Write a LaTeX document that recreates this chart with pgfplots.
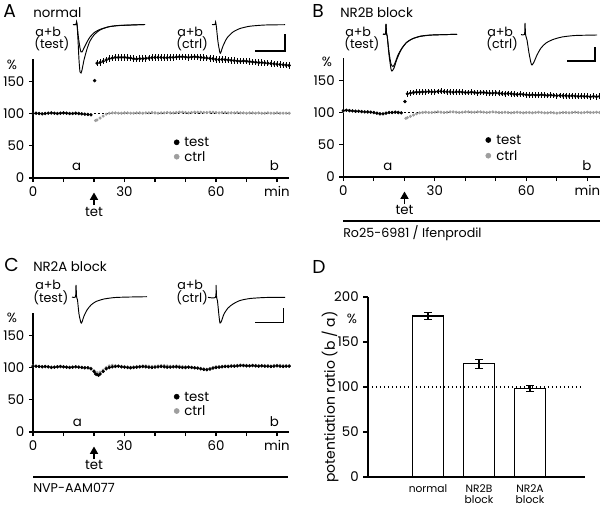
\documentclass[border=0pt]{standalone}
\usepackage{fontspec}
\setmainfont{Poppins}
\usepackage{pgfplots}
\pgfplotsset{compat=1.18}
\usetikzlibrary{arrows.meta}
\definecolor{grayc}{gray}{0.62}
\newcommand{\fs}{\fontsize{10}{12}\selectfont}
\newcommand{\fl}{\fontsize{9.5}{11}\selectfont}
\pgfplotsset{
  ts/.style={scale only axis, width=192.15pt, height=89.25pt,
    xmin=0, xmax=84, ymin=0, ymax=184.5, anchor=south west,
    axis lines=left, axis line style={-, line width=0.8pt},
    tick align=outside, major tick length=3pt,
    tick style={black, line width=0.8pt},
    xtick={0,10,...,80}, xticklabels={0,,,30,,,60,,min},
    ytick={0,50,100,150}, yticklabels={0,50,100,150},
    every tick label/.append style={font=\fs},
    clip=false},
  tst/.style={only marks, mark=*, mark size=1.05pt, color=black,
    error bars/.cd, y dir=both, y fixed=#1,
    error mark options={mark size=0pt},
    error bar style={line width=0.55pt, black}},
  ctl/.style={only marks, mark=*, mark size=0.95pt, color=grayc,
    error bars/.cd, y dir=both, y fixed=#1,
    error mark options={mark size=0pt},
    error bar style={line width=0.5pt, grayc}},
  refl/.style={black, line width=0.6pt, dash pattern=on 1.5pt off 1.5pt},
}
\begin{document}
\begin{tikzpicture}
\useasboundingbox (0pt,0pt) rectangle (450pt,-380.25pt);
% ---------------- Panel A ----------------
\begin{axis}[ts, at={(24.75pt,-133.5pt)}]
\addplot[refl] coordinates {(20,100) (84,100)};
\addplot[ctl=1] coordinates {(0,100)(2,100)(4,100)(6,100.5)(8,100)(10,100.5)(12,100)(14,100)(16,99.5)(18,99)};
\addplot[ctl=1.5] coordinates {(20.5,89)(21,90)(22,93)(23,96)(24,99)(25,100.5)(26,101)(27,101)(28,100.5)(29,100.5)(30,101)(31,101)(32,100.5)(33,100.5)(34,101)(35,101)(36,100.5)(37,101)(38,101)(39,101.5)(40,101)(41,100.5)(42,101)(43,101)(44,101.5)(45,101)(46,101)(47,101.5)(48,102)(49,102)(50,101.5)(51,101)(52,101.5)(53,102)(54,102)(55,102)(56,101.5)(57,101.5)(58,102)(59,102)(60,101.5)(61,101)(62,101.5)(63,101.5)(64,101)(65,101)(66,101)(67,101.5)(68,101)(69,101)(70,100.5)(71,101)(72,101)(73,100.5)(74,101)(75,100.5)(76,100.5)(77,101)(78,100.5)(79,100.5)(80,101)(81,100.5)(82,100.5)(83,100.5)(84,100.5)};
\addplot[tst=1.2] coordinates {(0,100)(1,100.5)(2,100)(3,99.5)(4,100)(5,100.5)(6,101)(7,100.5)(8,100)(9,100.5)(10,101)(11,100.5)(12,100)(13,100)(14,100.5)(15,100)(16,99.5)(17,99)(18,98.5)(19,98)};
\addplot[only marks, mark=*, mark size=1.1pt, black] coordinates {(20.2,151)};
\addplot[tst=5] coordinates {(21,178)(22,179)(23,181)(24,183)(25,185)(26,186)(27,187)(28,187)(29,187)(30,187)(31,186.5)(32,186)(33,185)(34,184.5)(35,185)(36,185)(37,185.5)(38,186)(39,186.5)(40,187)(41,187)(42,187)(43,186.5)(44,186.5)(45,187)(46,187)(47,187.5)(48,188)(49,188)(50,187.5)(51,187)(52,187.5)(53,188)(54,187.5)(55,187)(56,186.5)(57,186)(58,185.5)(59,185)(60,184)(61,183.5)(62,184)(63,183.5)(64,183)(65,182.5)(66,182)(67,181.5)(68,181)(69,181.5)(70,181)(71,180.5)(72,180)(73,179.5)(74,179)(75,179)(76,178.5)(77,178)(78,177.5)(79,177)(80,176.5)(81,176)(82,175.5)(83,175)(84,174.5)};
\end{axis}
% ---------------- Panel B ----------------
\begin{axis}[ts, at={(257.5pt,-132.75pt)}]
\addplot[refl] coordinates {(20,100) (84,100)};
\addplot[ctl=1] coordinates {(0,102)(2,102.5)(4,101.5)(6,101)(8,100.5)(10,99.5)(12,98)(14,99)(16,100)(18,100)};
\addplot[ctl=1.5] coordinates {(20.5,91)(21,92)(22,94)(23,96)(24,98)(25,99.5)(26,100)(27,100.5)(28,100)(29,100)(30,100.5)(31,101)(32,100.5)(33,100)(34,100.5)(35,101)(36,101)(37,100.5)(38,100)(39,100.5)(40,101)(41,101)(42,100.5)(43,100.5)(44,101)(45,101)(46,100.5)(47,100)(48,100.5)(49,101)(50,100.5)(51,100)(52,100)(53,100.5)(54,100)(55,99.5)(56,100)(57,100.5)(58,100)(59,99.5)(60,100)(61,100)(62,99.5)(63,100)(64,100.5)(65,100)(66,99.5)(67,99.5)(68,100)(69,99.5)(70,99)(71,99.5)(72,100)(73,100)(74,99.5)(75,100)(76,100.5)(77,100)(78,99.5)(79,100)(80,100.5)(81,100)(82,100)(83,100.5)(84,100)};
\addplot[tst=1.2] coordinates {(0,103)(1,103.5)(2,103)(3,102.5)(4,102)(5,102)(6,101.5)(7,101)(8,101)(9,100.5)(10,100)(11,99)(12,98)(13,98)(14,99)(15,100)(16,100)(17,100.5)(18,100)(19,99.5)};
\addplot[only marks, mark=*, mark size=1.1pt, black] coordinates {(20.2,117)};
\addplot[tst=4.5] coordinates {(21,129)(22,130)(23,131)(24,131.5)(25,131.5)(26,132)(27,132)(28,132.5)(29,132)(30,132)(31,132.5)(32,133)(33,132.5)(34,132)(35,132)(36,131.5)(37,132)(38,132)(39,131.5)(40,131)(41,131)(42,131.5)(43,131)(44,130.5)(45,131)(46,131)(47,130.5)(48,130)(49,130)(50,130.5)(51,130)(52,129.5)(53,129)(54,129.5)(55,129)(56,128.5)(57,128)(58,128.5)(59,128)(60,127.5)(61,127)(62,127.5)(63,127)(64,127)(65,127.5)(66,127)(67,126.5)(68,127)(69,126.5)(70,126)(71,126.5)(72,126)(73,126)(74,125.5)(75,126)(76,125.5)(77,125)(78,125.5)(79,125)(80,125)(81,124.5)(82,125)(83,124.5)(84,125)};
\end{axis}
% ---------------- Panel C ----------------
\begin{axis}[ts, at={(24.75pt,-324pt)}]
\addplot[ctl=1.8] coordinates {(0,102.5)(1,102)(2,102)(3,101.5)(4,102)(5,101.5)(6,101)(7,101)(8,101.5)(9,102)(10,101.5)(11,101)(12,100.5)(13,101)(14,101.5)(15,101)(16,100.5)(17,100)(18,100)(19,99)(20,95)(21,92)(22,93)(23,96)(24,100)(25,102.5)(26,103.5)(27,103)(28,102.5)(29,102)(30,101.5)(31,101)(32,100.5)(33,101)(34,101.5)(35,102)(36,102.5)(37,102.5)(38,102)(39,101.5)(40,102)(41,102.5)(42,103)(43,103)(44,102.5)(45,102)(46,102)(47,102.5)(48,102)(49,101.5)(50,101)(51,101)(52,100.5)(53,100)(54,99.5)(55,99)(56,98)(57,97.5)(58,98.5)(59,100)(60,101)(61,101.5)(62,102)(63,102.5)(64,102.5)(65,103)(66,103)(67,103.5)(68,104)(69,103.5)(70,103.5)(71,103)(72,103.5)(73,103.5)(74,103)(75,103)(76,103)(77,103)(78,102.5)(79,103)(80,103.5)(81,103.5)(82,103)(83,103)(84,103)};
\addplot[tst=1.8] coordinates {(0,102)(1,102)(2,101.5)(3,101)(4,101.5)(5,101)(6,100)(7,100.5)(8,101)(9,101.5)(10,101)(11,100.5)(12,100)(13,100.5)(14,101)(15,100.5)(16,100)(17,99.5)(18,99.5)(19,98)(20,94)(20.5,90)(21,89)(21.5,88)(22,90)(23,94)(24,98)(25,100)(26,101)(27,101.5)(28,102)(29,101)(30,100.5)(31,100)(32,99.5)(33,100)(34,100.5)(35,101)(36,101.5)(37,101)(38,100.5)(39,100)(40,100.5)(41,101)(42,101.5)(43,101)(44,100.5)(45,100.5)(46,101)(47,101)(48,100.5)(49,100)(50,100)(51,100.5)(52,100)(53,99.5)(54,99)(55,98)(56,97)(57,96.5)(58,97.5)(59,99)(60,100)(61,100.5)(62,101)(63,101.5)(64,101.5)(65,102)(66,102)(67,102.5)(68,103)(69,103)(70,102.5)(71,102.5)(72,103)(73,102.5)(74,102)(75,102.5)(76,102)(77,102)(78,101.5)(79,102)(80,102.5)(81,102)(82,101.5)(83,102)(84,102)};
\end{axis}
% ---------------- Panel D ----------------
\begin{axis}[scale only axis, width=162.75pt, height=135pt, at={(276pt,-357.75pt)}, anchor=south west,
  xmin=-1.176, xmax=3.078, ymin=0, ymax=200,
  axis lines=left, axis line style={-, line width=0.8pt},
  tick align=outside, major tick length=3.5pt, tick style={black, line width=0.8pt},
  ytick={0,50,100,150,200}, yticklabels={0,50,100,150,200},
  y tick label style={font=\fs},
  xtick={0,1,2}, xticklabels={normal, NR2B\\block, NR2A\\block},
  x tick label style={font=\fontsize{8}{8.6}\selectfont, align=center, yshift=1.5pt},
  xtick style={draw=none}, clip=false]
\addplot[ybar, bar width=23.25pt, fill=white, draw=black, line width=0.9pt,
  error bars/.cd, y dir=both, y explicit,
  error bar style={line width=0.8pt, black},
  error mark options={rotate=90, mark size=3pt, line width=0.8pt, black}]
  coordinates {(0,179) +- (0,4) (1,126) +- (0,5) (2,98) +- (0,3.3)};
\addplot[black, line width=0.8pt, dash pattern=on 1.2pt off 1.8pt] coordinates {(-1.1,100) (3.05,100)};
\end{axis}
% ---------------- Overlay (pixel coordinates) ----------------
\begin{axis}[scale only axis, width=450pt, height=380.25pt, at={(0pt,0pt)}, anchor=north west,
  xmin=0, xmax=600, ymin=0, ymax=507, y dir=reverse, hide axis, clip=false]
% traces A
\addplot[black, line width=0.7pt, smooth, tension=0.4] coordinates {(73,24.5)(76,24.5)(76.6,22)(77.2,26)(78,40)(79,60)(80,72)(81,73)(82,70)(84,60)(87,49)(90,41)(94,35)(100,30)(108,27)(118,25.5)(130,25)(145,24.5)};
\addplot[black, line width=0.7pt, smooth, tension=0.4] coordinates {(73,24.5)(76,24.5)(76.6,22)(77.2,26)(78.5,38)(80,48)(81,52)(82,52)(84,48)(87,42)(90,37)(95,32)(101,29)(110,26.5)(120,25.5)(145,24.5)};
\addplot[black, line width=0.7pt, smooth, tension=0.4] coordinates {(212,24.5)(215,24.5)(215.6,22)(216.3,26)(218,42)(220,53)(221,52)(223,46)(227,38)(233,32)(240,28.5)(250,26.2)(265,25)(285,24.7)};
\addplot[black, line width=0.8pt] coordinates {(255,51)(285,51)(285,33.5)};
% traces B
\addplot[black, line width=0.7pt, smooth, tension=0.4] coordinates {(383,34)(385.5,34)(386,24)(386.6,34)(387.2,36)(389,55)(391,69)(392,71)(394,68)(397,59)(401,50)(406,43)(412,39)(420,36.5)(432,35)(457,34.3)};
\addplot[black, line width=0.7pt, smooth, tension=0.4] coordinates {(383,34)(385.5,34)(386,24)(386.6,34)(387.2,36)(389,52)(391,64)(393,66.5)(395,63)(398,55)(402,48)(407,42)(413,38.5)(421,36)(432,35)(457,34.3)};
\addplot[black, line width=0.7pt, smooth, tension=0.4] coordinates {(521,34.5)(524.5,34.5)(525,23)(525.6,35)(527,40)(529,53)(531,63)(532,65)(534,62)(537,55)(541,48)(546,43)(553,39.5)(562,37)(575,35.5)(597,35)};
\addplot[black, line width=0.8pt] coordinates {(567,61)(595,61)(595,47)};
% traces C
\addplot[black, line width=0.7pt, smooth, tension=0.4] coordinates {(72,297)(75.5,297)(76,285)(76.6,297)(77.5,300)(79,314)(81,323)(82,322)(84,316)(87,310)(91,305)(96,301.5)(104,299)(115,297.5)(130,297)(147,296.7)};
\addplot[black, line width=0.7pt, smooth, tension=0.4] coordinates {(208,297.3)(215.5,297.3)(216,285)(216.6,297.3)(217.5,301)(219,316)(220,323)(221.5,321)(224,314)(228,308)(233,304)(240,300.5)(250,298.5)(265,297.5)(285,297.3)};
\addplot[black, line width=0.8pt] coordinates {(255,322.3)(283.3,322.3)(283.3,308.3)};
% legend markers
\addplot[only marks, mark=*, mark size=1.9pt, black] coordinates {(176.7,142.3)(488.3,140)(176.7,396.7)};
\addplot[only marks, mark=*, mark size=1.9pt, grayc] coordinates {(176.7,156.7)(488.3,155.7)(176.7,411)};
% drug bars
\addplot[black, line width=1.6pt] coordinates {(343,220.7)(600,220.7)};
\addplot[black, line width=1.6pt] coordinates {(33,477)(288,477)};
% tet arrows
\draw[black, line width=1.1pt, -{Triangle[length=5.5pt,width=6pt]}] (axis cs:94,205) -- (axis cs:94,192.5);
\draw[black, line width=1.1pt, -{Triangle[length=5.5pt,width=6pt]}] (axis cs:404.5,204) -- (axis cs:404.5,191.5);
\draw[black, line width=1.1pt, -{Triangle[length=5.5pt,width=6pt]}] (axis cs:94,459) -- (axis cs:94,446.5);
\node[font=\fs] at (axis cs:94,212) {tet};
\node[font=\fs] at (axis cs:404.5,210) {tet};
\node[font=\fs] at (axis cs:94,465) {tet};
% panel letters and titles
\node[anchor=base west, inner sep=0pt, font=\fontsize{14}{14}\selectfont] at (axis cs:3,17) {A};
\node[anchor=base west, inner sep=0pt, font=\fs] at (axis cs:33,17) {normal};
\node[anchor=base west, inner sep=0pt, font=\fontsize{14}{14}\selectfont] at (axis cs:312,17) {B};
\node[anchor=base west, inner sep=0pt, font=\fs] at (axis cs:340,17) {NR2B block};
\node[anchor=base west, inner sep=0pt, font=\fontsize{14}{14}\selectfont] at (axis cs:4,271) {C};
\node[anchor=base west, inner sep=0pt, font=\fs] at (axis cs:33,271.5) {NR2A block};
\node[anchor=base west, inner sep=0pt, font=\fontsize{14}{14}\selectfont] at (axis cs:312,273) {D};
% trace labels
\node[anchor=base west, inner sep=0pt, font=\fl] at (axis cs:35,36) {a+b};
\node[anchor=base west, inner sep=0pt, font=\fl] at (axis cs:34,48.5) {(test)};
\node[anchor=base west, inner sep=0pt, font=\fl] at (axis cs:177,36) {a+b};
\node[anchor=base west, inner sep=0pt, font=\fl] at (axis cs:176,48.5) {(ctrl)};
\node[anchor=base west, inner sep=0pt, font=\fl] at (axis cs:345,36) {a+b};
\node[anchor=base west, inner sep=0pt, font=\fl] at (axis cs:344,48.5) {(test)};
\node[anchor=base west, inner sep=0pt, font=\fl] at (axis cs:487,36) {a+b};
\node[anchor=base west, inner sep=0pt, font=\fl] at (axis cs:486,48.5) {(ctrl)};
\node[anchor=base west, inner sep=0pt, font=\fl] at (axis cs:35,289) {a+b};
\node[anchor=base west, inner sep=0pt, font=\fl] at (axis cs:33,302.5) {(test)};
\node[anchor=base west, inner sep=0pt, font=\fl] at (axis cs:177,289) {a+b};
\node[anchor=base west, inner sep=0pt, font=\fl] at (axis cs:176,302.5) {(ctrl)};
% percent signs
\node[font=\fs] at (axis cs:12,65) {\%};
\node[font=\fs] at (axis cs:327,62) {\%};
\node[font=\fs] at (axis cs:12,318) {\%};
\node[font=\fs] at (axis cs:352,319) {\%};
% legends
\node[anchor=base west, inner sep=0pt, font=\fs] at (axis cs:184,146.5) {test};
\node[anchor=base west, inner sep=0pt, font=\fs] at (axis cs:184,161) {ctrl};
\node[anchor=base west, inner sep=0pt, font=\fs] at (axis cs:496,144) {test};
\node[anchor=base west, inner sep=0pt, font=\fs] at (axis cs:496,160) {ctrl};
\node[anchor=base west, inner sep=0pt, font=\fs] at (axis cs:184,401) {test};
\node[anchor=base west, inner sep=0pt, font=\fs] at (axis cs:184,415.5) {ctrl};
% a / b labels
\node[anchor=base, inner sep=0pt, font=\fs] at (axis cs:76.7,170) {a};
\node[anchor=base, inner sep=0pt, font=\fs] at (axis cs:274.3,170) {b};
\node[anchor=base, inner sep=0pt, font=\fs] at (axis cs:388,170) {a};
\node[anchor=base, inner sep=0pt, font=\fs] at (axis cs:587,170) {b};
\node[anchor=base, inner sep=0pt, font=\fs] at (axis cs:77.3,426) {a};
\node[anchor=base, inner sep=0pt, font=\fs] at (axis cs:274.3,426) {b};
% drug labels
\node[anchor=base west, inner sep=0pt, font=\fontsize{9.5}{11}\selectfont] at (axis cs:343,237) {Ro25-6981 / Ifenprodil};
\node[anchor=base west, inner sep=0pt, font=\fontsize{9.5}{11}\selectfont] at (axis cs:33,492) {NVP-AAM077};
% D y label
\node[rotate=90, font=\fontsize{10.5}{12}\selectfont] at (axis cs:330,397) {potentiation ratio (b / a)};
\end{axis}
\end{tikzpicture}
\end{document}
